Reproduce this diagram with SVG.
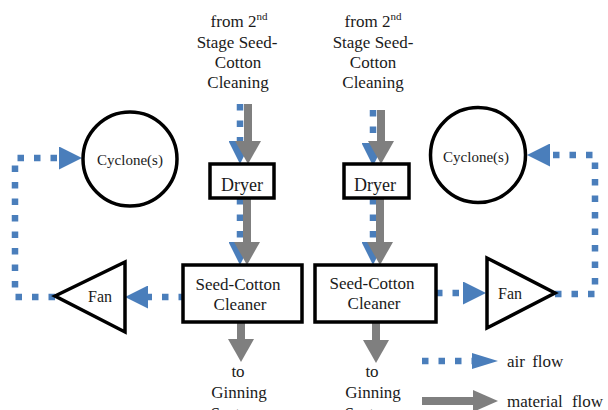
<svg xmlns="http://www.w3.org/2000/svg" width="608" height="410" viewBox="0 0 608 410">
<style>
text{font-family:'Liberation Serif','Times New Roman',Tinos,'Noto Serif','DejaVu Serif',FreeSerif,Times,serif;fill:#1a1a1a;text-anchor:middle}
.t17{font-size:17px}
.t18{font-size:18px}
.t16{font-size:16px}
.t15{font-size:15px}
.box{fill:#fff;stroke:#000;stroke-width:3.5}
.air{fill:none;stroke:#4a7ebb;stroke-width:6.5;stroke-dasharray:6.5 10;marker-end:url(#ah)}
.mat{fill:none;stroke:#7f7f7f;stroke-width:8;marker-end:url(#gh)}
</style>
<defs>
<marker id="ah" markerUnits="userSpaceOnUse" viewBox="0 0 23 23" markerWidth="23" markerHeight="23" refX="0" refY="11.5" orient="auto">
<path d="M0,0 L23,11.5 L0,23 Z" fill="#4a7ebb"/>
</marker>
<marker id="gh" markerUnits="userSpaceOnUse" viewBox="0 0 23 26" markerWidth="23" markerHeight="26" refX="0" refY="13" orient="auto">
<path d="M0,0 L23,13 L0,26 Z" fill="#7f7f7f"/>
</marker>
</defs>
<rect width="608" height="410" fill="#fff"/>

<g id="connectors">
<path class="air" d="M240,104 V141"/>
<path class="air" d="M373,110 V143"/>
<path class="air" d="M240,198 V242"/>
<path class="air" d="M373,198 V242"/>
<path class="air" d="M185,297 H148"/>
<path class="air" d="M55,297 H15 V158 H59"/>
<path class="air" d="M436,293 H463"/>
<path class="air" d="M555,294 H595 V155 H550"/>
<path class="mat" d="M248,104 V141"/>
<path class="mat" d="M381,110 V141"/>
<path class="mat" d="M247,198 V242"/>
<path class="mat" d="M380,198 V242"/>
<path class="mat" d="M241,322 V339"/>
<path class="mat" d="M376,322 V340"/>
</g>

<g id="src-left">
<text class="t17" x="239" y="27">from 2<tspan font-size="11" dy="-7">nd</tspan></text>
<text class="t17" x="237" y="48">Stage Seed-</text>
<text class="t17" x="238" y="68">Cotton</text>
<text class="t17" x="238" y="88">Cleaning</text>
</g>
<g id="src-right">
<text class="t17" x="373" y="27">from 2<tspan font-size="11" dy="-7">nd</tspan></text>
<text class="t17" x="373" y="48">Stage Seed-</text>
<text class="t17" x="373" y="68">Cotton</text>
<text class="t17" x="373" y="88">Cleaning</text>
</g>

<g id="cyclone-left">
<circle cx="130" cy="159" r="47" fill="#fff" stroke="#000" stroke-width="3.5"/>
<text class="t15" x="130" y="165">Cyclone(s)</text>
</g>
<g id="cyclone-right">
<circle cx="478" cy="155" r="47.5" fill="#fff" stroke="#000" stroke-width="3.5"/>
<text class="t15" x="476" y="162">Cyclone(s)</text>
</g>

<g id="dryer-left">
<rect class="box" x="210" y="164" width="64" height="34"/>
<text class="t18" x="242" y="191">Dryer</text>
</g>
<g id="dryer-right">
<rect class="box" x="344" y="164" width="65" height="34"/>
<text class="t18" x="375" y="191">Dryer</text>
</g>

<g id="cleaner-left">
<rect class="box" x="183" y="265" width="119" height="57"/>
<text class="t17" x="238" y="290">Seed-Cotton</text>
<text class="t17" x="240" y="310">Cleaner</text>
</g>
<g id="cleaner-right">
<rect class="box" x="315" y="265" width="121" height="57"/>
<text class="t17" x="372" y="289">Seed-Cotton</text>
<text class="t17" x="374" y="309">Cleaner</text>
</g>

<g id="fan-left">
<polygon points="55,296 125,262 125,332" fill="#fff" stroke="#000" stroke-width="3.5" stroke-linejoin="miter"/>
<text class="t16" x="100" y="302">Fan</text>
</g>
<g id="fan-right">
<polygon points="487,258 487,328 555,293" fill="#fff" stroke="#000" stroke-width="3.5" stroke-linejoin="miter"/>
<text class="t16" x="510" y="299">Fan</text>
</g>

<g id="out-left">
<text class="t17" x="238" y="377">to</text>
<text class="t17" x="239" y="398">Ginning</text>
<text class="t17" x="239" y="419">Systems</text>
</g>
<g id="out-right">
<text class="t17" x="372" y="377">to</text>
<text class="t17" x="373" y="398">Ginning</text>
<text class="t17" x="373" y="419">Systems</text>
</g>

<g id="legend">
<path d="M422,361 H472" fill="none" stroke="#4a7ebb" stroke-width="6.5" stroke-dasharray="6.5 10"/>
<polygon points="472,353 498,361 472,369" fill="#4a7ebb"/>
<path d="M422,401 H474" fill="none" stroke="#7f7f7f" stroke-width="8"/>
<polygon points="473,390 498,401 473,412" fill="#7f7f7f"/>
<text class="t17" x="507" y="367" style="text-anchor:start" word-spacing="3">air flow</text>
<text class="t17" x="507" y="407" style="text-anchor:start" word-spacing="5">material flow</text>
</g>
</svg>
